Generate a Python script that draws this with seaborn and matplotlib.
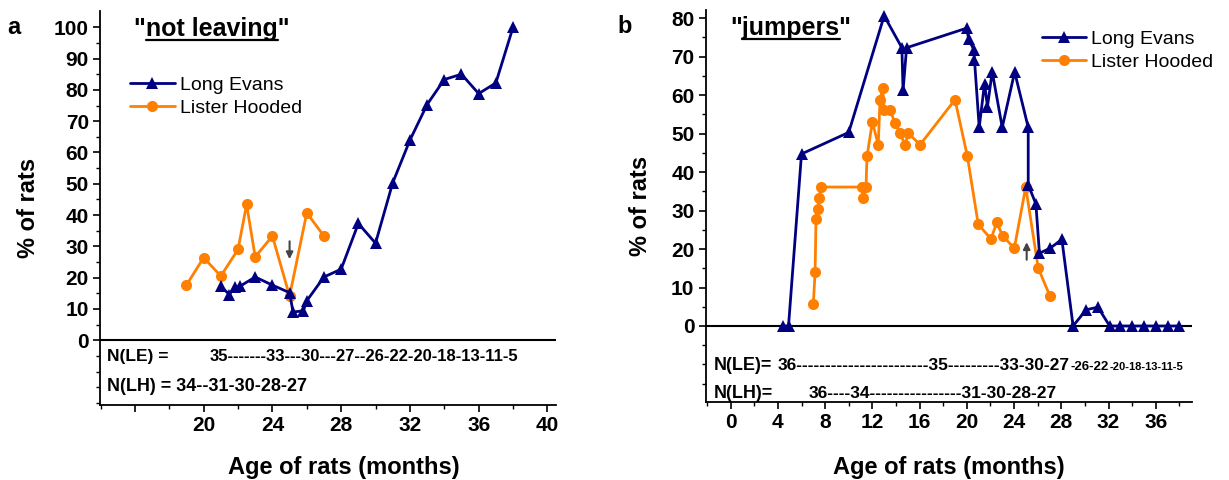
import matplotlib
matplotlib.use("Agg")
import matplotlib.pyplot as plt
import seaborn as sns
import pandas as pd
from matplotlib.lines import Line2D
from matplotlib.ticker import MultipleLocator, FixedLocator

# ---- panel a: "not leaving" ----
a_le_age = [21, 21.5, 21.8, 22.1, 23, 24, 25, 25.2, 25.8, 26, 27, 28, 29, 30,
            31, 32, 33, 34, 35, 36, 37, 38]
a_le_pct = [17.2, 14.6, 17.0, 17.2, 20.2, 17.6, 15.2, 9.0, 9.4, 12.6, 20.2, 22.7,
            37.3, 31.0, 50.3, 63.9, 75.3, 83.3, 85.0, 78.8, 82.2, 100.0]
a_lh_age = [19, 20, 21, 22, 22.5, 23, 24, 25, 26, 27]
a_lh_pct = [17.6, 26.4, 20.5, 29.0, 43.4, 26.6, 33.3, 14.1, 40.7, 33.3]

# ---- panel b: "jumpers" ----
b_le_age = [4.4, 4.9, 6.0, 10.0, 13.0, 14.5, 14.6, 14.9, 20.0, 20.15, 20.6, 20.65,
            21.05, 21.5, 21.75, 22.15, 23.0, 24.05, 25.2, 25.2, 25.85, 26.15,
            27.05, 28.05, 29, 30.1, 31.1, 32.1, 33, 34, 35, 36, 37, 38]
b_le_pct = [0, 0, 44.7, 50.3, 80.6, 72.3, 61.2, 72.3, 77.4, 74.5, 71.8, 69.1,
            51.6, 63.0, 57.0, 66.1, 51.6, 66.0, 51.6, 36.7, 31.7, 18.9,
            20.2, 22.5, 0, 4.2, 4.9, 0, 0, 0, 0, 0, 0, 0]
b_lh_age = [7.0, 7.15, 7.23, 7.38, 7.51, 7.63, 11.1, 11.24, 11.46, 11.55, 12.0,
            12.5, 12.65, 12.88, 13.0, 13.5, 13.92, 14.34, 14.77, 15.05, 16.04,
            19.0, 20.04, 20.97, 22.05, 22.53, 23.04, 24.02, 24.99, 26.05, 27.04]
b_lh_pct = [5.6, 13.9, 27.8, 30.4, 33.2, 36.1, 36.1, 33.2, 36.1, 44.1, 53.0,
            47.1, 58.8, 61.8, 56.0, 56.0, 52.8, 50.1, 47.1, 50.1, 47.1,
            58.8, 44.2, 26.4, 22.6, 26.9, 23.4, 20.2, 36.1, 15.0, 7.8]

a_xticks = [16, 20, 24, 28, 32, 36, 40]
a_xlabels = ["", "20", "24", "28", "32", "36", "40"]
a_yticks = list(range(0, 101, 10))
b_xticks = list(range(0, 37, 4))
b_yticks = list(range(0, 81, 10))

strains = ["Long Evans", "Lister Hooded"]
colors = {"Long Evans": "#000080", "Lister Hooded": "#FF8000"}
markers = {"Long Evans": "^", "Lister Hooded": "o"}

FONT = "Liberation Sans"
W, H = 1229, 480

sns.set_style("ticks")
plt.rcParams["font.family"] = [FONT, "DejaVu Sans"]
plt.rcParams.update({"text.color": "black", "axes.labelcolor": "black",
                     "xtick.color": "black", "ytick.color": "black",
                     "axes.edgecolor": "black"})

fig = plt.figure(figsize=(W / 100, H / 100), dpi=100)


def fx(px):
    return px / W


def fy(py):
    return 1 - py / H


def add_axes_px(left, top, right, bottom):
    return fig.add_axes([fx(left), fy(bottom), (right - left) / W, (bottom - top) / H])


def draw_series(ax, le, lh):
    # Lister Hooded underneath, Long Evans on top
    for name, (x, y) in [("Lister Hooded", lh), ("Long Evans", le)]:
        df = pd.DataFrame({"age": x, "pct": y})
        sns.lineplot(data=df, x="age", y="pct", ax=ax, color=colors[name],
                     marker=markers[name], markersize=8 if name == "Lister Hooded" else 8.5,
                     markeredgewidth=0, linewidth=2, estimator=None, sort=False,
                     label=name)
    h, l = ax.get_legend_handles_labels()
    order = [l.index(s) for s in strains]
    return [h[i] for i in order], [l[i] for i in order]


def style_axes(ax):
    sns.despine(ax=ax)
    for s in ["left", "bottom"]:
        ax.spines[s].set_linewidth(1.3)
        ax.spines[s].set_color("black")
    ax.axhline(0, color="black", lw=1.5, zorder=1)
    ax.tick_params(which="major", length=5, width=1.2, pad=3, colors="black")
    ax.tick_params(which="minor", length=3, width=1.0, colors="black")
    ax.xaxis.set_minor_locator(MultipleLocator(2))
    ax.yaxis.set_minor_locator(FixedLocator(list(range(-20, 101, 5))))


def underlined_title(x, y_base, word, size):
    t = fig.text(fx(x), fy(y_base), f'"{word}"', ha="center", va="baseline",
                 fontsize=size, fontweight="bold")
    fig.canvas.draw()
    r = fig.canvas.get_renderer()
    bb = t.get_window_extent(r)
    q = fig.text(0, 0, '"', fontsize=size, fontweight="bold")
    qw = q.get_window_extent(r).width
    q.remove()
    yline = fy(y_base + 4)
    fig.add_artist(Line2D([(bb.x0 + qw) / W, (bb.x1 - qw) / W], [yline, yline],
                          color="black", lw=1.6, transform=fig.transFigure))


def ntext(x, y_base, s, size=12.5):
    return fig.text(fx(x), fy(y_base), s, ha="left", va="baseline", fontsize=size,
                    fontweight="bold")


def ntext_chain(x, y_base, parts):
    # parts of one line written in shrinking sizes, each starting where the last ended
    fig.canvas.draw()
    r = fig.canvas.get_renderer()
    for s, size in parts:
        t = ntext(x, y_base, s, size)
        x = t.get_window_extent(r).x1 + 1


# ---------- panel a ----------
ax_a = add_axes_px(100, 11.3, 556, 405)
h, l = draw_series(ax_a, (a_le_age, a_le_pct), (a_lh_age, a_lh_pct))
style_axes(ax_a)
ax_a.set_xlim(13.97, 40.5)
ax_a.set_ylim(-20.7, 105.1)
ax_a.set_xticks(a_xticks, a_xlabels, fontsize=15, fontweight="bold")
ax_a.set_yticks(a_yticks, [str(v) for v in a_yticks], fontsize=15, fontweight="bold")
ax_a.set_xlabel("Age of rats (months)", fontsize=17, fontweight="bold")
ax_a.set_ylabel("% of rats", fontsize=17, fontweight="bold")
ax_a.xaxis.set_label_coords((343.5 - 100) / 456, (405 - 456) / 393.7)
ax_a.yaxis.set_label_coords((40 - 100) / 456, 0.5)
ax_a.legend(h, l, loc="upper left", bbox_to_anchor=((130 - 100) / 456, (405 - 76) / 393.7),
            frameon=False, fontsize=14, handlelength=2.3, handletextpad=0.25,
            labelspacing=0.28, borderaxespad=0, borderpad=0)
ax_a.annotate("", xy=(25, 25), xytext=(25, 32.5),
              arrowprops=dict(arrowstyle="-|>", color="#444444", lw=1.5, mutation_scale=10))

# ---------- panel b ----------
ax_b = add_axes_px(705.5, 10.4, 1192, 401.7)
h, l = draw_series(ax_b, (b_le_age, b_le_pct), (b_lh_age, b_lh_pct))
style_axes(ax_b)
ax_b.set_xlim(-2.13, 39.07)
ax_b.set_ylim(-19.67, 82.0)
ax_b.set_xticks(b_xticks, [str(v) for v in b_xticks], fontsize=15, fontweight="bold")
ax_b.set_yticks(b_yticks, [str(v) for v in b_yticks], fontsize=15, fontweight="bold")
ax_b.set_xlabel("Age of rats (months)", fontsize=17, fontweight="bold")
ax_b.set_ylabel("% of rats", fontsize=17, fontweight="bold")
ax_b.xaxis.set_label_coords(0.5, (401.7 - 456) / 391.3)
ax_b.yaxis.set_label_coords((652 - 705.5) / 486.5, 0.5)
ax_b.legend(h, l, loc="upper left", bbox_to_anchor=((1041.7 - 705.5) / 486.5, (401.7 - 30) / 391.3),
            frameon=False, fontsize=14, handlelength=2.3, handletextpad=0.25,
            labelspacing=0.28, borderaxespad=0, borderpad=0)
ax_b.annotate("", xy=(25.07, 22.5), xytext=(25.07, 16.5),
              arrowprops=dict(arrowstyle="-|>", color="#444444", lw=1.5, mutation_scale=10))

# ---------- panel letters, titles, N rows ----------
fig.text(fx(14), fy(34), "a", ha="center", va="baseline", fontsize=17, fontweight="bold")
fig.text(fx(624.5), fy(33), "b", ha="center", va="baseline", fontsize=17, fontweight="bold")
underlined_title(211.6, 36, "not leaving", 18)
underlined_title(791, 35, "jumpers", 18)

ntext(107, 361, "N(LE) =")
ntext(210, 361, "35-------33---30---27--26-22-20-18-13-11-5", 12)
ntext(107, 391, "N(LH) = 34--31-30-28-27", 13)

ntext(713.4, 370, "N(LE)=", 13)
ntext_chain(777.7, 370, [("36" + "-" * 23 + "35" + "-" * 9 + "33-30-27", 12.5),
                         ("-26-22", 9.5), ("-20-18-13-11-5", 8)])
ntext(713.4, 398, "N(LH)=", 13)
ntext(808.6, 398, "36----34" + "-" * 16 + "31-30-28-27", 12.5)

fig.savefig("out.png", dpi=100)
